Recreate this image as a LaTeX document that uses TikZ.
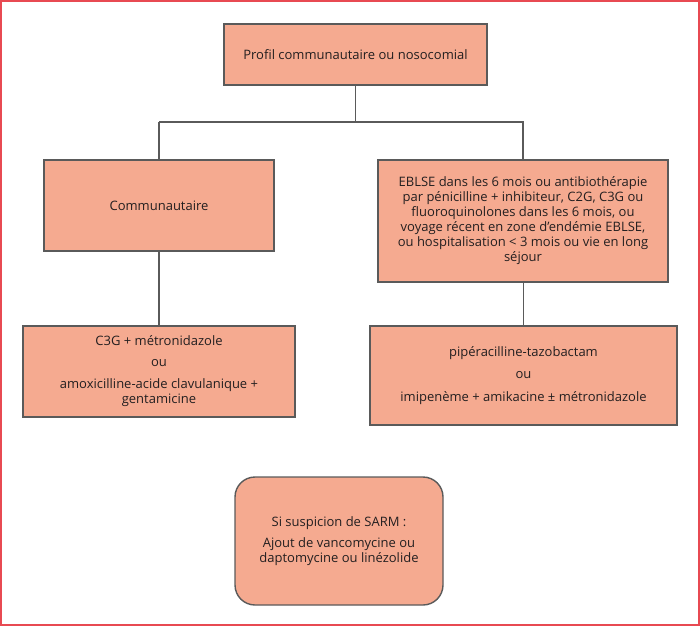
\documentclass[tikz,border=0pt]{standalone}
\usepackage{fontspec}
\setmainfont{Open Sans}
\definecolor{boxfill}{RGB}{245,170,144}
\definecolor{boxline}{RGB}{90,90,90}
\definecolor{frame}{RGB}{232,74,82}
\definecolor{txt}{RGB}{35,31,32}
\begin{document}
\begin{tikzpicture}[x=1pt,y=-1pt,
  every node/.style={inner sep=0pt, outer sep=0pt},
  box/.style={draw=boxline, line width=1.4pt, fill=boxfill, align=center,
    text=txt, font=\fontsize{13}{15}\selectfont, anchor=north west},
  link/.style={draw=boxline, line width=1.5pt}]
\useasboundingbox (0,0) rectangle (700,626);
\draw[frame, line width=2pt] (1,1) rectangle (699,625);
\node[box, minimum width=263pt, minimum height=61pt] (top) at (224,24) {Profil communautaire ou nosocomial};
\node[box, minimum width=230pt, minimum height=91pt] (comm) at (44,160) {Communautaire};
\node[box, minimum width=290pt, minimum height=122pt] (eblse) at (378,160) {EBLSE dans les 6 mois ou antibiothérapie\\par pénicilline + inhibiteur, C2G, C3G ou\\fluoroquinolones dans les 6 mois, ou\\voyage récent en zone d’endémie EBLSE,\\ou hospitalisation < 3 mois ou vie en long\\séjour};
\node[box, minimum width=272pt, minimum height=91pt] (c3g) at (23,326) {C3G + métronidazole\\[6pt]ou\\[7pt]amoxicilline-acide clavulanique +\\gentamicine};
\node[box, minimum width=307pt, minimum height=99pt] (pip) at (370,326) {pipéracilline-tazobactam\\[7.5pt]ou\\[7.5pt]imipenème + amikacine ± métronidazole};
\node[box, rounded corners=20pt, minimum width=208pt, minimum height=128pt] (sarm) at (235,477) {Si suspicion de SARM :\\[6pt]Ajout de vancomycine ou\\daptomycine ou linézolide};
\coordinate (split) at (top.south |- 0,122);
\draw[link] (top.south) -- (split);
\draw[link] (comm.north |- split) -- (comm.north);
\draw[link] (comm.north |- split) -- (eblse.north |- split) -- (eblse.north);
\draw[link] (comm.south) -- (c3g.north -| comm.south);
\draw[link] (eblse.south -| pip.north) -- (pip.north);
\end{tikzpicture}
\end{document}
